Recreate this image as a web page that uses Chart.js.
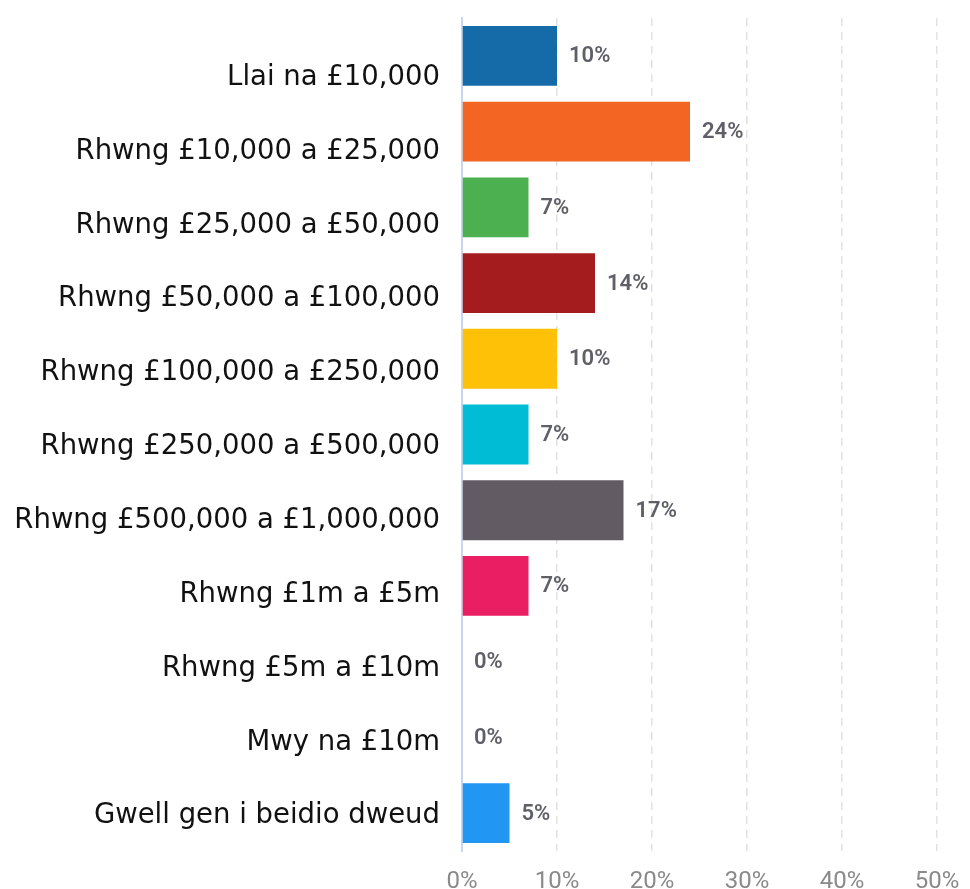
<!DOCTYPE html>
<html>
<head>
<meta charset="utf-8">
<script src="https://cdn.jsdelivr.net/npm/chart.js@4/dist/chart.umd.min.js"></script>
<style>
html,body{margin:0;padding:0;background:#fff;}
#wrap{width:970px;height:889px;position:relative;}
</style>
</head>
<body>
<div id="wrap"><canvas id="c"></canvas></div>
<script>
const categories = [
  "Llai na £10,000",
  "Rhwng £10,000 a £25,000",
  "Rhwng £25,000 a £50,000",
  "Rhwng £50,000 a £100,000",
  "Rhwng £100,000 a £250,000",
  "Rhwng £250,000 a £500,000",
  "Rhwng £500,000 a £1,000,000",
  "Rhwng £1m a £5m",
  "Rhwng £5m a £10m",
  "Mwy na £10m",
  "Gwell gen i beidio dweud"
];
const values = [10, 24, 7, 14, 10, 7, 17, 7, 0, 0, 5];
const barColors = ["#156BA8","#F26522","#4CAF50","#A51C1F","#FFC107","#00BCD4","#625B63","#E91E63","#2196F3","#2196F3","#2196F3"];
const xTicks = [0, 10, 20, 30, 40, 50];

const valueLabels = {
  id: 'valueLabels',
  afterDatasetsDraw(chart) {
    const ctx = chart.ctx;
    const meta = chart.getDatasetMeta(0);
    ctx.save();
    ctx.font = '600 22px Roboto';
    ctx.fillStyle = '#5f5f68';
    ctx.textAlign = 'left';
    ctx.textBaseline = 'middle';
    meta.data.forEach((bar, i) => {
      const v = chart.data.datasets[0].data[i];
      ctx.fillText(v + '%', bar.x + 12, bar.y + 1);
    });
    ctx.restore();
  }
};

const noPad = (s) => { s.paddingTop = 0; s.paddingBottom = 0; s.paddingLeft = 0; s.paddingRight = 0; };

new Chart(document.getElementById('c'), {
  type: 'bar',
  data: {
    labels: categories,
    datasets: [{
      data: values,
      backgroundColor: barColors,
      borderWidth: 0,
      categoryPercentage: 1,
      barPercentage: 0.79
    }]
  },
  options: {
    indexAxis: 'y',
    responsive: true,
    maintainAspectRatio: false,
    animation: false,
    layout: { padding: { left: 0, right: 33, top: 18, bottom: 0 } },
    plugins: { legend: { display: false }, tooltip: { enabled: false } },
    scales: {
      x: {
        type: 'linear',
        min: 0, max: 50,
        offset: false,
        afterBuildTicks: (s) => { s.ticks = xTicks.map(v => ({ value: v })); },
        afterFit: (s) => { s.height = 38; noPad(s); },
        grid: {
          color: (c) => (c.tick && c.tick.value === 0) ? 'rgba(0,0,0,0)' : '#e2e2e2',
          lineWidth: 1.5,
          drawTicks: false
        },
        border: { display: false, dash: [8, 6] },
        ticks: {
          padding: 17,
          color: '#8a8a8a',
          font: { family: 'Roboto', size: 24 },
          callback: (v) => v + '%'
        }
      },
      y: {
        display: false
      },
      yl: {
        type: 'linear',
        position: 'left',
        reverse: true,
        offset: false,
        min: -0.81,
        max: 10.47,
        afterBuildTicks: (s) => { s.ticks = categories.map((_, i) => ({ value: i })); },
        afterFit: (s) => { s.width = 462; noPad(s); },
        grid: { display: false, drawTicks: false },
        border: { display: true, color: '#c8d6ef', width: 2 },
        ticks: {
          autoSkip: false,
          padding: 22,
          color: '#111',
          font: { family: 'DejaVu Sans', size: 27.5 },
          callback: (v) => categories[v]
        }
      }
    }
  },
  plugins: [valueLabels]
});
</script>
</body>
</html>
